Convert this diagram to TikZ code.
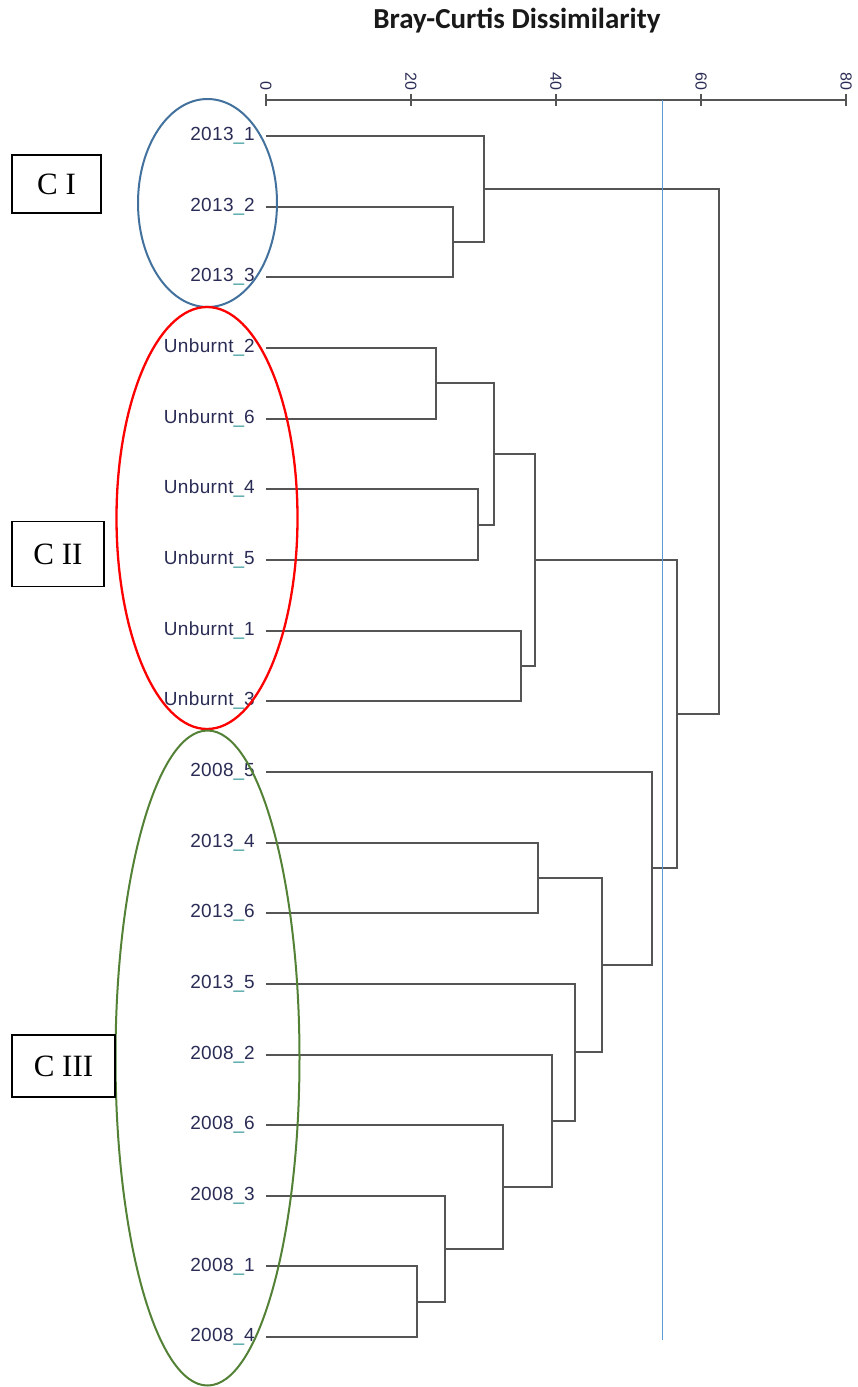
\documentclass[tikz,border=0pt]{standalone}
\usepackage{fontspec}
\setmainfont{Liberation Serif}
\newfontfamily\leaffont[LetterSpace=2]{Liberation Sans}
\newfontfamily\titlefont{Carlito}
\usetikzlibrary{calc}

\definecolor{linegray}{HTML}{555555}
\definecolor{labelnavy}{HTML}{2A2C55}
\definecolor{uscore}{HTML}{3A9A9A}
\definecolor{cutblue}{HTML}{5B9BD5}
\definecolor{ringblue}{HTML}{41719C}
\definecolor{ringgreen}{HTML}{538135}

\newcommand{\usc}{\textcolor{uscore}{\_}}

\begin{document}
\begin{tikzpicture}[x=1pt, y=-1pt, every node/.style={inner sep=0pt},
    leaf/.style={anchor=base east, text=labelnavy, font=\leaffont\fontsize{19}{19}\selectfont},
    ticklabel/.style={anchor=east, rotate=-90, text=labelnavy, font=\leaffont\fontsize{16}{16}\selectfont},
    branch/.style={draw=linegray, line width=2pt},
    clusterbox/.style={draw=black, line width=1.3pt, font=\fontsize{31}{31}\selectfont}]

    \useasboundingbox (0,0) rectangle (858,1387);

    % Title and axis
    \node[anchor=base, font=\titlefont\bfseries\fontsize{29}{29}\selectfont, text=black!90] (title) at (517,28.5) {Bray-Curtis Dissimilarity};

    \coordinate (a0) at (266,100);
    \coordinate (a20) at (411,100);
    \coordinate (a40) at (556,100);
    \coordinate (a60) at (701,100);
    \coordinate (a80) at (846,100);
    \draw[branch] (a0) -- (a80);
    \draw[branch] ($(a0)+(0,-6)$) -- ($(a0)+(0,6)$);
    \draw[branch] ($(a20)+(0,-6)$) -- ($(a20)+(0,6)$);
    \draw[branch] ($(a40)+(0,-6)$) -- ($(a40)+(0,6)$);
    \draw[branch] ($(a60)+(0,-6)$) -- ($(a60)+(0,6)$);
    \draw[branch] ($(a80)+(0,-6)$) -- ($(a80)+(0,6)$);
    \node[ticklabel] (t0) at ($(a0)+(0,-9)$) {0};
    \node[ticklabel] (t20) at ($(a20)+(0,-9)$) {20};
    \node[ticklabel] (t40) at ($(a40)+(0,-9)$) {40};
    \node[ticklabel] (t60) at ($(a60)+(0,-9)$) {60};
    \node[ticklabel] (t80) at ($(a80)+(0,-9)$) {80};

    % Leaves
    \node[leaf] (n1) at (255,140.5) {2013\usc1};
    \node[leaf] (n2) at (255,211) {2013\usc2};
    \node[leaf] (n3) at (255,281.5) {2013\usc3};
    \node[leaf] (n4) at (255,352.5) {Unburnt\usc2};
    \node[leaf] (n5) at (255,423) {Unburnt\usc6};
    \node[leaf] (n6) at (255,493.5) {Unburnt\usc4};
    \node[leaf] (n7) at (255,564.5) {Unburnt\usc5};
    \node[leaf] (n8) at (255,635) {Unburnt\usc1};
    \node[leaf] (n9) at (255,705.5) {Unburnt\usc3};
    \node[leaf] (n10) at (255,776.5) {2008\usc5};
    \node[leaf] (n11) at (255,847) {2013\usc4};
    \node[leaf] (n12) at (255,917.5) {2013\usc6};
    \node[leaf] (n13) at (255,988.5) {2013\usc5};
    \node[leaf] (n14) at (255,1059) {2008\usc2};
    \node[leaf] (n15) at (255,1129.5) {2008\usc6};
    \node[leaf] (n16) at (255,1200.5) {2008\usc3};
    \node[leaf] (n17) at (255,1271) {2008\usc1};
    \node[leaf] (n18) at (255,1341.5) {2008\usc4};

    \coordinate (s1) at (266,136);
    \coordinate (s2) at (266,207);
    \coordinate (s3) at (266,277);
    \coordinate (s4) at (266,348);
    \coordinate (s5) at (266,419);
    \coordinate (s6) at (266,489);
    \coordinate (s7) at (266,560);
    \coordinate (s8) at (266,631);
    \coordinate (s9) at (266,701);
    \coordinate (s10) at (266,772);
    \coordinate (s11) at (266,843);
    \coordinate (s12) at (266,913);
    \coordinate (s13) at (266,984);
    \coordinate (s14) at (266,1055);
    \coordinate (s15) at (266,1125);
    \coordinate (s16) at (266,1196);
    \coordinate (s17) at (266,1266);
    \coordinate (s18) at (266,1337);

    % Merge points
    \coordinate (mA) at (453,242);
    \coordinate (mB) at (484,189);
    \coordinate (mC) at (436,383);
    \coordinate (mD) at (478,525);
    \coordinate (mE) at (494,454);
    \coordinate (mF) at (521,666);
    \coordinate (mG) at (535,560);
    \coordinate (mH) at (538,878);
    \coordinate (mI) at (417,1302);
    \coordinate (mJ) at (445,1249);
    \coordinate (mK) at (503,1187);
    \coordinate (mL) at (552,1121);
    \coordinate (mM) at (575,1052);
    \coordinate (mN) at (602,965);
    \coordinate (mO) at (652,868);
    \coordinate (mP) at (677,714);
    \coordinate (mQ) at (719,451);

    % Branches
    \draw[branch] (s2) -| (mA) |- (s3);
    \draw[branch] (s1) -| (mB) |- (mA);
    \draw[branch] (s4) -| (mC) |- (s5);
    \draw[branch] (s6) -| (mD) |- (s7);
    \draw[branch] (mC) -| (mE) |- (mD);
    \draw[branch] (s8) -| (mF) |- (s9);
    \draw[branch] (mE) -| (mG) |- (mF);
    \draw[branch] (s11) -| (mH) |- (s12);
    \draw[branch] (s17) -| (mI) |- (s18);
    \draw[branch] (s16) -| (mJ) |- (mI);
    \draw[branch] (s15) -| (mK) |- (mJ);
    \draw[branch] (s14) -| (mL) |- (mK);
    \draw[branch] (s13) -| (mM) |- (mL);
    \draw[branch] (mH) -| (mN) |- (mM);
    \draw[branch] (s10) -| (mO) |- (mN);
    \draw[branch] (mG) -| (mP) |- (mO);
    \draw[branch] (mB) -| (mQ) |- (mP);

    % Cut line
    \coordinate (cuttop) at (662.5,100);
    \coordinate (cutbot) at (662.5,1340);
    \draw[cutblue, line width=1pt] (cuttop) -- (cutbot);

    % Cluster rings
    \draw[ringblue, line width=2pt] (207.5,203) ellipse [x radius=69.5, y radius=104];
    \draw[red, line width=2.3pt] (207,518) ellipse [x radius=90.5, y radius=211];
    \draw[ringgreen, line width=2pt] (207.5,1058) ellipse [x radius=92, y radius=327.5];

    % Cluster boxes
    \node[clusterbox, minimum width=89, minimum height=58] (c1) at (56.5,184) {C I};
    \node[clusterbox, minimum width=92, minimum height=65] (c2) at (58,554) {C II};
    \node[clusterbox, minimum width=103, minimum height=62] (c3) at (63.5,1066) {C III};

\end{tikzpicture}
\end{document}
